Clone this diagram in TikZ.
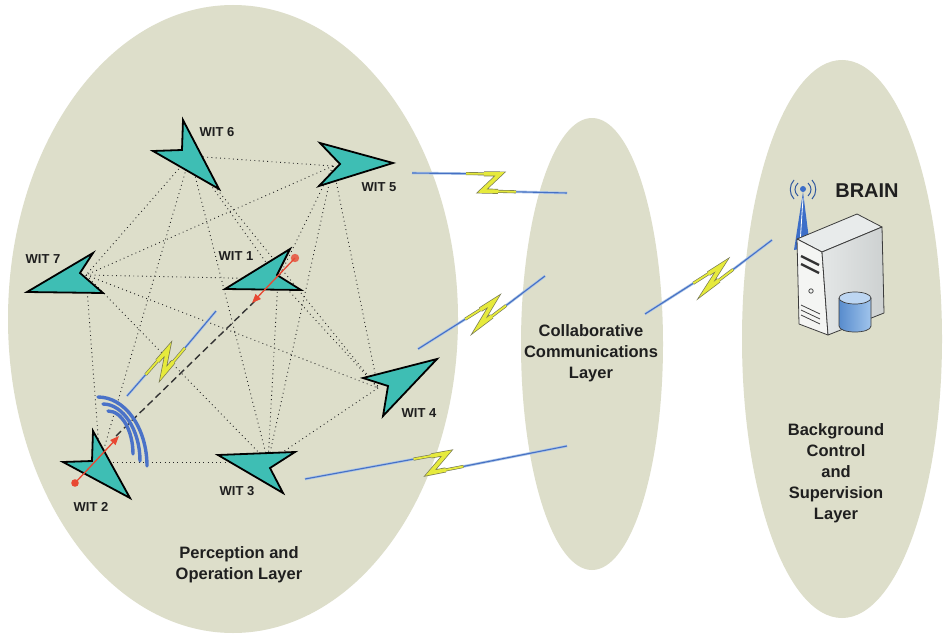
\documentclass[tikz,border=0pt]{standalone}
\usepackage{fontspec}
\setmainfont{Liberation Sans}
\usetikzlibrary{calc,shapes.geometric,arrows.meta}

\definecolor{layerfill}{RGB}{221,222,202}
\definecolor{witfill}{RGB}{62,190,180}
\definecolor{linkblue}{RGB}{70,112,196}
\definecolor{linkglow}{RGB}{172,198,232}
\definecolor{boltyellow}{RGB}{230,234,60}
\definecolor{boltrim}{RGB}{120,122,80}
\definecolor{redmark}{RGB}{232,72,50}
\definecolor{wifiblue}{RGB}{74,114,200}
\definecolor{srvtop}{RGB}{232,235,235}
\definecolor{srvfront}{RGB}{244,245,243}
\definecolor{srvside}{RGB}{216,220,220}
\definecolor{srvline}{RGB}{60,60,60}
\definecolor{cylA}{RGB}{88,140,205}
\definecolor{cylB}{RGB}{160,196,236}
\definecolor{antblue}{RGB}{60,110,200}

% lightning link: start, upper zig corner, lower zig corner, end
\newcommand\boltlink[4]{%
  \draw[boltglow] (#1) -- (#2);
  \draw[boltglow] (#3) -- (#4);
  \draw[boltline] (#1) -- (#2);
  \draw[boltline] (#3) -- (#4);
  \draw[boltedge, line width=3pt] ($(#2)!34pt!(#1)$) -- (#2) -- (#3) -- ($(#3)!34pt!(#4)$);
  \draw[boltedge, line width=5pt] ($(#2)!16pt!(#1)$) -- (#2) -- (#3) -- ($(#3)!16pt!(#4)$);
  \draw[boltcore, line width=1.8pt] ($(#2)!34pt!(#1)$) -- (#2) -- (#3) -- ($(#3)!34pt!(#4)$);
  \draw[boltcore, line width=3.6pt] ($(#2)!16pt!(#1)$) -- (#2) -- (#3) -- ($(#3)!16pt!(#4)$);
}

\begin{document}
\begin{tikzpicture}[x=1pt,y=-1pt,
  layer/.style={ellipse, fill=layerfill, draw=none, inner sep=0pt},
  layertext/.style={align=center, font=\fontsize{16.5}{21}\selectfont\bfseries, text=black!88},
  witlabel/.style={font=\fontsize{13}{15}\selectfont\bfseries, text=black!88, inner sep=0pt},
  wit/.style={fill=witfill, draw=black, line width=1.8pt, line join=miter},
  mesh/.style={black!85, line width=0.9pt, dash pattern=on 0.9pt off 3.4pt},
  linkdash/.style={black!80, line width=1.4pt, dash pattern=on 7pt off 4pt},
  redarrow/.style={redmark, line width=1.3pt, -{Triangle[width=7pt,length=9pt]}},
  wifi/.style={wifiblue, line width=3.4pt, line cap=round},
  boltglow/.style={linkglow, line width=2.6pt},
  boltline/.style={linkblue, line width=1.1pt},
  boltedge/.style={boltrim, line join=miter},
  boltcore/.style={boltyellow, line join=miter},
  srvedge/.style={draw=srvline, line width=0.8pt, line join=round}]

\useasboundingbox (0,0) rectangle (947,634);
\fill[white] (0,0) rectangle (947,634);

% the three layers
\node[layer, minimum width=450pt, minimum height=628pt] (perception) at (233,319) {};
\node[layer, minimum width=142pt, minimum height=452pt] (collab) at (592,344) {};
\node[layer, minimum width=200pt, minimum height=558pt] (background) at (842,339) {};

% meeting points of the mesh links at each WIT
\coordinate (h6) at (190,156);
\coordinate (h5) at (333,166);
\coordinate (h7) at (86,275);
\coordinate (h1) at (278,279);
\coordinate (h4) at (378,388);
\coordinate (h3) at (268,462);
\coordinate (h2) at (100,462);

\foreach \a/\b in {h6/h5, h6/h7, h6/h2, h6/h1, h6/h3, h6/h4,
                   h5/h7, h5/h1, h5/h3, h5/h4,
                   h7/h1, h7/h4, h7/h2, h7/h3,
                   h1/h3, h1/h4, h4/h3, h2/h3}
  \draw[mesh] (\a) -- (\b);

% direct link WIT 2 -- WIT 1
\coordinate (d2) at (116,436);
\coordinate (d1) at (255,301);
\draw[linkdash] (d2) -- (d1);

% WIT units
\draw[wit] (219,189) -- (183,120) -- (182,150) -- (153,151) -- cycle;
\draw[wit] (393,163) -- (320,143) -- (340,164) -- (319,186) -- cycle;
\draw[wit] (27,292) -- (93,253) -- (80,273) -- (103,293) -- cycle;
\draw[wit] (225,289) -- (290,249) -- (277,275) -- (301,290) -- cycle;
\draw[wit] (437,359) -- (363,378) -- (388,386) -- (383,416) -- cycle;
\draw[wit] (218,455) -- (295,452) -- (270,468) -- (283,493) -- cycle;
\draw[wit] (130,498) -- (93,431) -- (92,461) -- (63,462) -- cycle;

\node[witlabel] (t6) at (217,132) {WIT 6};
\node[witlabel] (t5) at (379,187) {WIT 5};
\node[witlabel] (t7) at (43,259) {WIT 7};
\node[witlabel] (t1) at (236,256) {WIT 1};
\node[witlabel] (t4) at (419,413) {WIT 4};
\node[witlabel] (t3) at (237,491) {WIT 3};
\node[witlabel] (t2) at (91,507) {WIT 2};

% heading markers
\coordinate (r2s) at (75,483);
\coordinate (r2e) at (119,436);
\draw[redarrow] (r2s) -- (r2e);
\fill[redmark] (r2s) circle (3.8);
\coordinate (r1s) at (295,258);
\coordinate (r1e) at (252,303);
\draw[redarrow] (r1s) -- (r1e);
\fill[redmark, opacity=0.8] (r1s) circle (4.2);

% radio waves from WIT 2
\draw[wifi] (98,397) .. controls (125,397) and (147,428) .. (147,466);
\draw[wifi] (103,404) .. controls (123,404) and (140,430) .. (140,461);
\draw[wifi] (108,411) .. controls (122,411) and (133,431) .. (133,454);

% wireless links
\coordinate (a1) at (412,173); \coordinate (b1) at (500,174);
\coordinate (c1) at (482,191); \coordinate (e1) at (567,193);
\boltlink{a1}{b1}{c1}{e1}
\coordinate (a2) at (418,349); \coordinate (b2) at (494,301);
\coordinate (c2) at (479,326); \coordinate (e2) at (545,276);
\boltlink{a2}{b2}{c2}{e2}
\coordinate (a3) at (305,479); \coordinate (b3) at (447,453);
\coordinate (c3) at (430,473); \coordinate (e3) at (567,446);
\boltlink{a3}{b3}{c3}{e3}
\coordinate (a4) at (645,314); \coordinate (b4) at (722,265);
\coordinate (c4) at (706,290); \coordinate (e4) at (772,240);
\boltlink{a4}{b4}{c4}{e4}
\coordinate (a5) at (127,396); \coordinate (b5) at (168,349);
\coordinate (c5) at (163,374); \coordinate (e5) at (216,311);
\boltlink{a5}{b5}{c5}{e5}

% layer captions
\node[layertext] (ptext) at (239,565) {Perception and\\Operation Layer};
\node[layertext] (ctext) at (591,353) {Collaborative\\Communications\\Layer};
\node[layertext] (btext) at (836,473) {Background\\Control\\and\\Supervision\\Layer};
\node[font=\fontsize{20}{24}\selectfont\bfseries, text=black!88] (brain) at (867,191) {BRAIN};

% BRAIN server
\coordinate (sT1) at (797,239);
\coordinate (sT2) at (857,214);
\coordinate (sT3) at (882,227);
\coordinate (sT4) at (822,252);
\coordinate (sL3) at (828,335);
\coordinate (sL4) at (799,324);
\coordinate (sR3) at (884,313);
\fill[antblue] (803,192) -- (794,250) -- (810,247) -- cycle;
\draw[white, line width=0.8pt] (803,198) -- (800,244);
\fill[antblue] (803,189) circle (3);
\draw[antblue!80!black, line width=1pt]
  (798,183) .. controls (794,187) and (794,192) .. (798,196)
  (794,180) .. controls (789,185) and (789,194) .. (794,199)
  (808,183) .. controls (812,187) and (812,192) .. (808,196)
  (812,180) .. controls (817,185) and (817,194) .. (812,199);
\filldraw[srvedge, fill=srvtop] (sT1) -- (sT2) -- (sT3) -- (sT4) -- cycle;
\filldraw[srvedge, fill=srvfront] (sT1) -- (sT4) -- (sL3) -- (sL4) -- cycle;
\shade[left color=srvside!70!white, right color=srvside!95!black] (sT4) -- (sT3) -- (sR3) -- (sL3) -- cycle;
\draw[srvedge] (sT4) -- (sT3) -- (sR3) -- (sL3) -- cycle;
\draw[black!80, line width=2.4pt] (801,256) -- (819,265) (801,264) -- (819,273);
\draw[black!70, line width=0.8pt] (811,291) circle (2.2);
\draw[black!75, line width=0.8pt] (801,305) -- (820,314) (801,310) -- (820,319) (801,315) -- (820,324);
% database cylinder
\shade[left color=cylA, right color=cylB] (839,298) rectangle (871,326);
\shade[left color=cylA, right color=cylB] (839,326) .. controls (839,334) and (871,334) .. (871,326) -- cycle;
\draw[srvline, line width=0.7pt] (839,298) -- (839,326) .. controls (839,334) and (871,334) .. (871,326) -- (871,298);
\filldraw[fill=cylB!70!white, draw=srvline, line width=0.7pt] (855,298) ellipse [x radius=16, y radius=6];

\end{tikzpicture}
\end{document}
